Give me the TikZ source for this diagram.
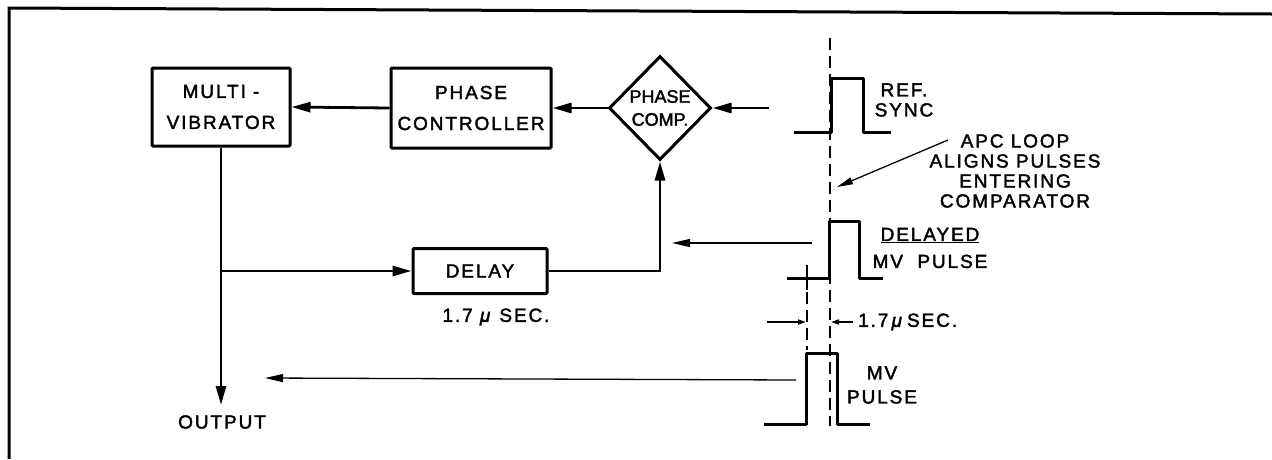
\documentclass[tikz,border=0pt]{standalone}
\usepackage{fontspec}
\setmainfont{Liberation Sans}[FakeBold=2]
\newfontfamily\lbl{Liberation Sans}[LetterSpace=10,FakeBold=2]
\newfontfamily\dfont{Liberation Sans}[FakeBold=2]
\usetikzlibrary{arrows.meta,shapes.geometric}
\begin{document}
\begin{tikzpicture}[x=1pt,y=-1pt,
  box/.style={draw,line width=3pt,rounded corners=1pt,inner sep=0pt,align=center,font=\lbl\fontsize{19}{31}\selectfont},
  wire/.style={line width=2.8pt},
  arr/.style={wire,-{Triangle[length=19pt,width=10pt]}},
  thinarr/.style={line width=1.3pt,-{Triangle[length=18pt,width=8pt]}},
  dimarr/.style={line width=1.6pt,-{Triangle[length=8pt,width=5pt]}},
  pulse/.style={line width=3pt,line join=round},
  dashv/.style={line width=2pt,dash pattern=on 12pt off 6pt},
  lab/.style={font=\lbl\fontsize{19}{20}\selectfont,inner sep=0pt,align=center},
]
\useasboundingbox (0,0) rectangle (1272,459);
% frame
\draw[line width=3pt] (9,459) -- (9,8) -- (1272,14);
% blocks
\node[box,minimum width=138pt,minimum height=78pt] (mv) at (221,107) {MULTI -\\VIBRATOR};
\node[box,minimum width=160pt,minimum height=80pt] (pc) at (471,108) {PHASE\\CONTROLLER};
\node[draw,diamond,line width=3pt,minimum width=102pt,minimum height=104pt,inner sep=0pt,align=center,font=\dfont\fontsize{18}{23}\selectfont] (comp) at (660,108) {PHASE\\COMP.};
\node[box,minimum width=134pt,minimum height=45pt] (delay) at (480,271) {DELAY};
\node[lab] (dlylab) at (496,317) {1.7 \textit{μ} SEC.};
\node[lab] (out) at (222,422) {OUTPUT};
\coordinate (junc) at (mv.south |- delay.west);
\coordinate (outtip) at (221,405);
\coordinate (refin) at (769,108);
% connectors
\draw[arr] (pc.west) -- (mv.east);
\draw[arr] (comp.west) -- (pc.east);
\draw[arr] (refin) -- (comp.east);
\draw[arr] (mv.south) -- (outtip);
\draw[arr] (junc) -- (delay.west);
\draw[arr] (delay.east) -| (comp.south);
% pulses
\draw[pulse] (794,132) -- (831,132) -- (831,78) -- (863,78) -- (863,132) -- (891,132);
\draw[pulse] (787,278) -- (829,278) -- (829,221) -- (859,221) -- (859,278) -- (883,278);
\draw[pulse] (764,424) -- (806,424) -- (806,353) -- (837,353) -- (837,424) -- (870,424);
\draw[line width=2pt] (807,265) -- (807,290);
\draw[dashv] (830,38) -- (830,426);
\draw[dashv] (807,292) -- (807,350);
% dimension
\draw[dimarr] (767,322) -- (806,322);
\draw[dimarr] (853,322) -- (831,322);
\node[lab,anchor=west] (dimlab) at (858,322) {1.7\,\textit{μ}\,SEC.};
% thin arrows
\coordinate (dps) at (812,243);
\coordinate (dpt) at (672,243);
\draw[thinarr] (dps) -- (dpt);
\coordinate (mps) at (796,380);
\coordinate (mpt) at (265,378);
\draw[thinarr] (mps) -- (mpt);
% labels
\node[lab] (ref) at (904,100) {REF.\\SYNC};
\node[lab] (apc) at (1015,171) {APC LOOP\\ALIGNS PULSES\\ENTERING\\COMPARATOR};
\coordinate (lds) at (948,140);
\coordinate (ldt) at (837,187);
\draw[line width=1.3pt,-{Triangle[length=16pt,width=7pt]}] (lds) -- (ldt);
\node[lab] (dmv) at (930,248) {\underline{DELAYED}\\[7pt]MV\ \ PULSE};
\node[lab] (mvp) at (882,385) {MV\\[4pt]PULSE};
\end{tikzpicture}
\end{document}
